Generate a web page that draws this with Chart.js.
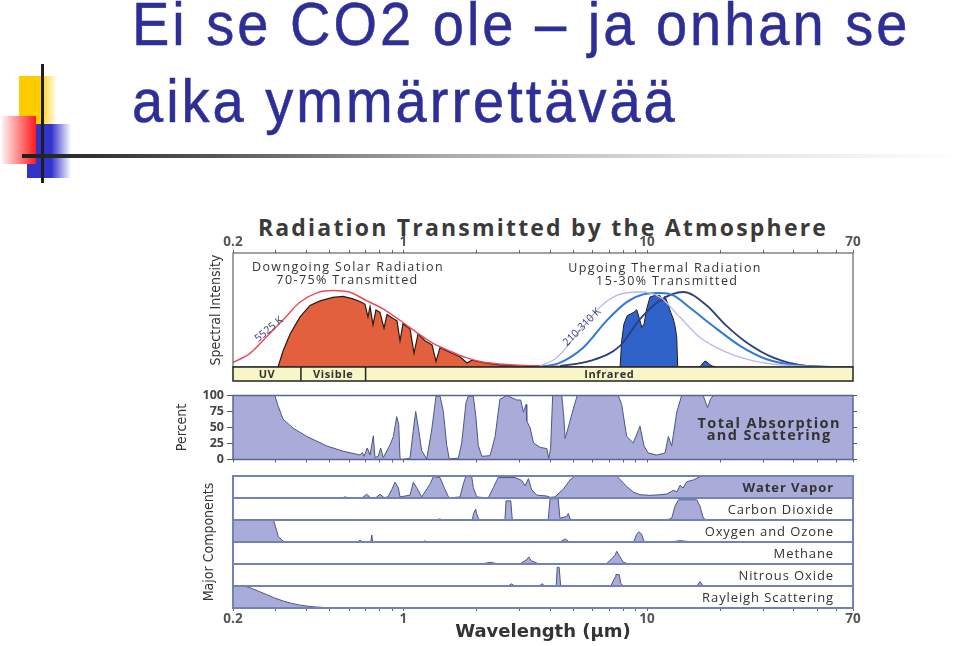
<!DOCTYPE html>
<html>
<head>
<meta charset="utf-8">
<script src="https://cdn.jsdelivr.net/npm/chart.js@4.4.1/dist/chart.umd.min.js"></script>
<style>
  html, body { margin: 0; padding: 0; background: #fff; }
  body { width: 960px; height: 646px; position: relative; overflow: hidden; }
  .abs { position: absolute; }
  .slideTitle {
    position: absolute; left: 132px; margin: 0; white-space: nowrap;
    font-family: 'Liberation Sans', Arial, sans-serif; font-size: 56px; line-height: 56px;
    letter-spacing: 3px; color: #2e2f96; -webkit-text-stroke: 0.5px #2e2f96;
    transform: scaleY(1.1); transform-origin: left bottom;
  }
  #figTitle {
    position: absolute; left: 233px; width: 620px; top: 211px; text-align: center;
    font: 700 23px 'Open Sans', sans-serif; letter-spacing: 2.2px; color: #3a3a3a;
  }
  canvas { position: absolute; }
</style>
</head>
<body>
<!-- slide decoration -->
<div class="abs" style="left:19px;top:76px;width:38px;height:48px;background:linear-gradient(to right,#ffcc00 55%,rgba(255,204,0,0))"></div>
<div class="abs" style="left:27px;top:124px;width:44px;height:54px;background:linear-gradient(to right,#3333cc 55%,rgba(51,51,204,0))"></div>
<div class="abs" style="left:2px;top:116px;width:34px;height:48px;background:linear-gradient(to right,#fff0f0,#ff1a1a)"></div>
<div class="abs" style="left:41px;top:64px;width:3px;height:119px;background:#1e1e1e"></div>
<div class="abs" style="left:22px;top:154px;width:938px;height:4px;background:linear-gradient(to right,#1e1e1e 0%,#555 20%,#aaa 45%,#ddd 70%,rgba(255,255,255,0) 100%)"></div>

<div class="slideTitle" style="top:-1px">Ei se CO2 ole – ja onhan se</div>
<div class="slideTitle" style="top:76px">aika ymmärrettävää</div>

<div id="figTitle">Radiation Transmitted by the Atmosphere</div>

<canvas id="spectral" width="720" height="180" style="left:160px;top:205px"></canvas>
<canvas id="percent" width="720" height="85" style="left:160px;top:385px"></canvas>
<canvas id="components" width="720" height="176" style="left:160px;top:470px"></canvas>

<script>
// Aallonpituusakseli (µm), logaritminen
const wlMin = 0.2;
const wlMax = 70;
const tickMarks = [0.2, 0.3, 0.4, 0.5, 0.6, 0.7, 0.8, 0.9, 1, 2, 3, 4, 5, 6, 7, 8, 9, 10, 20, 30, 40, 50, 60, 70];
const tickLabels = [0.2, 1, 10, 70];

const bandEdges = [0.2, 0.38, 0.7, 70];
const bandNames = ['UV', 'Visible', 'Infrared'];

// Auringon säteily (5525 K) ja läpi päässyt osa
const solarBodyWl = [0.2, 0.235, 0.276, 0.333, 0.377, 0.442, 0.514, 0.604, 0.709, 0.825, 0.968, 1.14, 1.32, 1.55, 1.82, 2.12, 2.49, 3.0, 4.0, 5.5];
const solarBodyVal = [4, 12, 27, 45, 57, 65, 67, 65.5, 58, 51, 41, 30, 21, 14, 8, 4.4, 2.7, 1.5, 0.8, 0];

const solarTransWl = [0.306, 0.321, 0.343, 0.377, 0.414, 0.455, 0.514, 0.566, 0.616, 0.664, 0.696, 0.716, 0.730, 0.751, 0.772, 0.802, 0.833, 0.857, 0.907, 0.942, 0.969, 0.997, 1.065, 1.106, 1.149, 1.227, 1.311, 1.362, 1.414, 1.554, 1.708, 1.825, 1.913, 2.16, 2.49, 3.01, 3.64];
const solarTransVal = [0, 14, 29, 44, 54, 58, 61, 62, 60, 57.5, 55, 44, 53, 37, 50, 48, 34, 46, 42.5, 40.5, 23, 38, 33.5, 12, 29, 23, 19.5, 5, 17, 13, 9, 3.5, 6, 3.5, 1.8, 0.9, 0];

// Maan lämpösäteily (210-310 K)
const warmWl = [3.64, 4.26, 5.31, 6.41, 7.51, 9.35, 11.3, 13.66, 16.49, 20.56, 25.6, 33.0, 45.2, 70];
const warmVal = [0.9, 8.2, 31.9, 52.5, 62.8, 65.8, 61.3, 43.6, 25.9, 14.2, 6.8, 2.4, 0.6, 0];
const midWl = [3.64, 4.40, 5.48, 6.83, 8.25, 9.65, 11.3, 12.82, 15.0, 18.65, 24.07, 30.98, 39.3, 52.9, 70];
const midVal = [0, 3.8, 17.1, 40.7, 56.9, 63.7, 64.9, 62.8, 52, 36, 18.6, 6.8, 2, 0.3, 0];
const coldWl = [4.40, 5.83, 7.75, 9.35, 11.3, 14.09, 17.57, 21.2, 25.6, 33.0, 45.2, 60, 70];
const coldVal = [0.9, 5.3, 18.6, 42, 58.4, 65.8, 54, 36, 21.5, 8.2, 0.9, 0, 0];

const thermalTransWl = [7.75, 7.87, 8.04, 8.30, 8.57, 8.84, 9.07, 9.27, 9.51, 9.72, 9.97, 10.28, 10.78, 11.30, 11.60, 11.85, 12.23, 12.50, 12.82, 13.06, 13.24, 13.36, 16.49, 16.97, 17.29, 17.62, 17.96, 18.47, 19.18];
const thermalTransVal = [0, 23, 37.8, 45.1, 46.6, 48.1, 50.2, 43.6, 34.8, 37.8, 51.1, 61.3, 62.8, 62.8, 57.8, 62, 54, 48.1, 42.2, 34.8, 25.9, 0, 0, 3.5, 5.3, 4.4, 2.7, 0.9, 0];

// Kokonaisabsorptio ja sironta (%)
const totalWl = [0.2, 0.297, 0.306, 0.321, 0.353, 0.402, 0.486, 0.566, 0.664, 0.679, 0.690, 0.711, 0.730, 0.753, 0.765, 0.789, 0.807, 0.827, 0.882, 0.910, 0.939, 0.957, 0.969, 0.985, 1.065, 1.099, 1.124, 1.152, 1.189, 1.247, 1.307, 1.362, 1.414, 1.459, 1.507, 1.544, 1.681, 1.736, 1.808, 1.847, 1.937, 1.987, 2.03, 2.10, 2.27, 2.38, 2.49, 2.66, 2.92, 3.03, 3.11, 3.19, 3.21, 3.31, 3.42, 3.64, 3.88, 3.95, 4.02, 4.10, 4.47, 4.56, 4.61, 4.75, 4.98, 5.17, 7.62, 7.87, 8.25, 8.78, 9.36, 9.72, 10.12, 10.96, 11.85, 12.23, 12.62, 13.24, 13.87, 17.0, 17.7, 18.25, 18.7, 70];
const totalVal = [100, 100, 84, 63, 49, 36, 21, 13, 7, 11, 5, 18, 7, 37, 3, 5, 18, 3, 23, 36, 67, 55, 2, 0, 2, 46, 75, 50, 14, 1, 46, 99, 99, 75, 22, 1, 2, 26, 89, 99, 99, 65, 22, 5, 6, 36, 94, 100, 93, 93, 74, 86, 60, 50, 26, 19, 17, 2, 17, 100, 100, 64, 33, 50, 79, 100, 100, 86, 36, 26, 52, 21, 10, 7, 10, 36, 21, 74, 100, 100, 81, 95, 100, 100];

// Pääkomponentit
const componentNames = ['Water Vapor', 'Carbon Dioxide', 'Oxygen and Ozone', 'Methane', 'Nitrous Oxide', 'Rayleigh Scattering'];

const waterWl = [0.2, 0.559, 0.576, 0.604, 0.676, 0.707, 0.737, 0.772, 0.802, 0.833, 0.865, 0.896, 0.924, 0.954, 0.969, 1.065, 1.099, 1.135, 1.189, 1.287, 1.327, 1.414, 1.483, 1.540, 1.708, 1.762, 1.803, 1.908, 1.937, 2.0, 2.23, 2.34, 2.45, 2.87, 3.06, 3.16, 3.26, 3.36, 3.53, 3.88, 4.0, 4.19, 4.53, 4.83, 5.06, 7.51, 7.75, 8.25, 8.78, 9.35, 10.28, 11.30, 12.04, 12.82, 13.27, 13.66, 14.05, 14.55, 15.48, 16.49, 17.57, 70];
const waterVal = [0, 0, 5, 0, 0, 17, 0, 2, 17, 2, 5, 38, 72, 47, 5, 13, 72, 47, 5, 63, 97, 93, 38, 0, 5, 63, 97, 97, 47, 5, 0, 47, 93, 93, 80, 55, 88, 38, 13, 9, 3, 5, 40, 82, 100, 100, 84, 52, 27, 15, 12, 15, 18, 35, 28, 58, 45, 74, 82, 97, 100, 100];

const co2Wl = [0.2, 1.37, 1.41, 1.45, 1.92, 1.94, 1.98, 2.0, 2.03, 2.07, 2.61, 2.64, 2.76, 2.8, 3.93, 4.0, 4.32, 4.39, 4.68, 4.75, 4.83, 4.97, 8.8, 9.4, 10.4, 12.0, 12.62, 13.03, 13.46, 15.99, 16.49, 17.02, 17.57, 70];
const co2Val = [0, 0, 5, 0, 0, 28, 50, 28, 8, 0, 0, 87, 87, 0, 0, 97, 97, 8, 16, 30, 5, 0, 0, 2, 2, 0, 8, 63, 92, 92, 63, 8, 0, 0];

const oxyWl = [0.2, 0.293, 0.297, 0.307, 0.322, 0.36, 0.65, 0.664, 0.68, 0.735, 0.742, 0.749, 1.2, 1.227, 1.26, 4.4, 4.61, 4.8, 8.8, 9.07, 9.27, 9.5, 9.72, 10.0, 12.5, 13.66, 15.5, 70];
const oxyVal = [100, 100, 80, 24, 3, 0, 0, 8, 0, 0, 32, 0, 0, 5, 0, 0, 14, 0, 0, 35, 47, 35, 3, 0, 0, 6, 0, 0];

const ch4Wl = [0.2, 2.1, 2.27, 2.45, 3.0, 3.21, 3.27, 3.35, 3.6, 6.8, 7.16, 7.39, 7.51, 7.75, 7.99, 8.4, 70];
const ch4Val = [0, 0, 8, 0, 0, 20, 32, 15, 0, 0, 24, 40, 58, 32, 8, 0, 0];

const n2oWl = [0.2, 2.7, 2.78, 2.86, 3.6, 3.72, 3.8, 4.24, 4.28, 4.36, 4.42, 7.1, 7.39, 7.45, 7.69, 7.8, 8.0, 16.0, 16.49, 17.0, 70];
const n2oVal = [0, 0, 10, 0, 0, 10, 0, 0, 85, 85, 0, 0, 40, 52, 52, 12, 0, 0, 20, 0, 0];

const rayleighWl = [0.2, 0.217, 0.254, 0.297, 0.348, 0.407, 0.477, 0.559, 70];
const rayleighVal = [100, 100, 77, 45, 21, 8, 2, 0, 0];

// --- apufunktiot ---
const pts = (xs, ys) => xs.map((x, i) => ({ x: x, y: ys[i] }));
const sideFont = "'Liberation Sans Narrow', 'DejaVu Sans Condensed', 'Open Sans', sans-serif";
const fillColor = '#a9abd8';
const fillLine = '#4c5689';
const bandHeight = 14;

function wlAxis(position, showLabels) {
    return {
        type: 'logarithmic',
        position: position,
        min: wlMin,
        max: wlMax,
        afterBuildTicks: s => { s.ticks = tickMarks.map(v => ({ value: v })); },
        ticks: {
            display: showLabels,
            autoSkip: false,
            maxRotation: 0,
            padding: 1,
            color: '#555',
            font: { family: 'Open Sans', weight: 'bold', size: 13.5, lineHeight: 1 },
            callback: v => tickLabels.some(t => Math.abs(t - v) < 1e-9) ? String(v) : ''
        },
        grid: { drawOnChartArea: false, tickLength: 3, color: '#666' },
        border: { display: false }
    };
}

// kehykset jokaisen y-akselin paneelin ympärille
const framePlugin = {
    id: 'frames',
    afterDatasetsDraw(chart, args, opts) {
        const { ctx, chartArea: a } = chart;
        ctx.save();
        ctx.strokeStyle = opts.color || '#444';
        ctx.lineWidth = opts.width || 1;
        Object.values(chart.scales).forEach(s => {
            if (s.axis !== 'y' || s.id === 'yr') return;
            ctx.strokeRect(a.left, s.top, a.right - a.left, s.bottom - s.top);
        });
        ctx.restore();
    }
};

// UV / Visible / Infrared -kaista kuva-alueen alle
const bandPlugin = {
    id: 'bands',
    afterDatasetsDraw(chart) {
        const xs = chart.scales.x;
        const top = chart.chartArea.bottom;
        const ctx = chart.ctx;
        ctx.save();
        ctx.fillStyle = '#f8f6c6';
        ctx.fillRect(xs.left, top, xs.right - xs.left, bandHeight);
        ctx.strokeStyle = '#222';
        ctx.lineWidth = 1.5;
        ctx.strokeRect(xs.left, top, xs.right - xs.left, bandHeight);
        ctx.font = "bold 11px 'Open Sans', sans-serif";
        ctx.fillStyle = '#333';
        ctx.textAlign = 'center';
        ctx.textBaseline = 'middle';
        if ('letterSpacing' in ctx) ctx.letterSpacing = '0.6px';
        bandNames.forEach((name, i) => {
            const x0 = xs.getPixelForValue(bandEdges[i]);
            const x1 = xs.getPixelForValue(bandEdges[i + 1]);
            if (i > 0) {
                ctx.beginPath();
                ctx.moveTo(x0, top);
                ctx.lineTo(x0, top + bandHeight);
                ctx.stroke();
            }
            ctx.fillText(name, (x0 + x1) / 2, top + bandHeight / 2 + 1);
        });
        ctx.restore();
    }
};

// tekstit kuvaajan sisällä, paikka datakoordinaateissa
function notesPlugin(items) {
    return {
        id: 'notes',
        afterDatasetsDraw(chart) {
            const ctx = chart.ctx;
            items.forEach(n => {
                const px = chart.scales.x.getPixelForValue(n.x);
                const py = chart.scales[n.axis || 'y'].getPixelForValue(n.y);
                ctx.save();
                ctx.translate(px, py);
                ctx.rotate((n.rotate || 0) * Math.PI / 180);
                ctx.font = n.font;
                ctx.fillStyle = n.color || '#333';
                ctx.textAlign = n.align || 'center';
                ctx.textBaseline = 'middle';
                if ('letterSpacing' in ctx) ctx.letterSpacing = n.spacing || '0px';
                ctx.fillText(n.text, 0, 0);
                ctx.restore();
            });
        }
    };
}

const noteFont = "12.5px 'Open Sans', sans-serif";
const spectralNotes = [
    { text: 'Downgoing Solar Radiation', x: 0.593, y: 87.5, font: noteFont, spacing: '1.4px' },
    { text: '70-75% Transmitted', x: 0.59, y: 76, font: noteFont, spacing: '1.4px' },
    { text: 'Upgoing Thermal Radiation', x: 11.85, y: 86.5, font: noteFont, spacing: '1.4px' },
    { text: '15-30% Transmitted', x: 12.1, y: 75, font: noteFont, spacing: '1.4px' },
    { text: '5525 K', x: 0.281, y: 33, font: "10.5px 'Open Sans', sans-serif", color: '#2d3a70', rotate: -40 },
    { text: '210-310 K', x: 5.41, y: 35, font: "10.5px 'Open Sans', sans-serif", color: '#2d3a70', rotate: -45 }
];
const percentNotes = [
    { text: 'Total Absorption', x: 31.7, y: 55, font: "bold 14.5px 'Open Sans', sans-serif", spacing: '1.4px' },
    { text: 'and Scattering', x: 31.7, y: 37, font: "bold 14.5px 'Open Sans', sans-serif", spacing: '1.4px' }
];

// --- 1: spektri ---
new Chart(document.getElementById('spectral'), {
    type: 'line',
    data: {
        datasets: [
            { data: pts(warmWl, warmVal), borderColor: '#bdb6ea', borderWidth: 1.3, cubicInterpolationMode: 'monotone' },
            { data: pts(midWl, midVal), borderColor: '#2f7ad6', borderWidth: 2, cubicInterpolationMode: 'monotone' },
            { data: pts(coldWl, coldVal), borderColor: '#2c3f7c', borderWidth: 1.8, cubicInterpolationMode: 'monotone' },
            { data: pts(thermalTransWl, thermalTransVal), borderColor: '#1c1e2e', borderWidth: 1, backgroundColor: '#2f63c9', fill: 'origin' },
            { data: pts(solarBodyWl, solarBodyVal), borderColor: '#ea4c5e', borderWidth: 1.5, cubicInterpolationMode: 'monotone' },
            { data: pts(solarTransWl, solarTransVal), borderColor: '#2a1a14', borderWidth: 1.2, backgroundColor: '#e2603d', fill: 'origin' }
        ]
    },
    options: {
        responsive: false,
        animation: false,
        events: [],
        layout: { padding: { left: 0, right: 27, top: 28, bottom: 4 + bandHeight } },
        elements: { point: { radius: 0 }, line: { tension: 0 } },
        scales: {
            x: Object.assign(wlAxis('top', true), { afterFit: s => { s.height = 20; } }),
            y: {
                position: 'left', min: 0, max: 100,
                ticks: { display: false }, grid: { display: false }, border: { display: false },
                title: { display: true, text: 'Spectral Intensity', color: '#333', padding: { top: 47.6, bottom: 0 }, font: { family: sideFont, size: 14 } },
                afterFit: s => { s.width = 73; }
            }
        },
        plugins: {
            legend: { display: false },
            tooltip: { enabled: false },
            frames: { color: '#444', width: 1 }
        }
    },
    plugins: [framePlugin, bandPlugin, notesPlugin(spectralNotes)]
});

// --- 2: kokonaisabsorptio ---
new Chart(document.getElementById('percent'), {
    type: 'line',
    data: {
        datasets: [
            { data: pts(totalWl, totalVal), borderColor: fillLine, borderWidth: 1, backgroundColor: fillColor, fill: 'origin' }
        ]
    },
    options: {
        responsive: false,
        animation: false,
        events: [],
        layout: { padding: { left: 0, right: 23, top: 7, bottom: 0 } },
        elements: { point: { radius: 0 }, line: { tension: 0 } },
        scales: {
            x: Object.assign(wlAxis('bottom', false), { afterFit: s => { s.height = 7; } }),
            y: {
                position: 'left', min: 0, max: 100,
                ticks: { stepSize: 25, autoSkip: false, padding: 3, color: '#444', font: { family: 'Open Sans', weight: 'bold', size: 12.5 } },
                grid: { drawOnChartArea: false, tickLength: 6, color: '#555' },
                border: { display: false },
                title: { display: true, text: 'Percent', color: '#333', padding: { top: 13.6, bottom: 0 }, font: { family: sideFont, size: 14 } },
                afterFit: s => { s.width = 73; }
            },
            yr: {
                position: 'right', min: 0, max: 100,
                ticks: { display: false, stepSize: 25, autoSkip: false },
                grid: { drawOnChartArea: false, tickLength: 4, color: '#555' },
                border: { display: false },
                afterFit: s => { s.width = 4; }
            }
        },
        plugins: {
            legend: { display: false },
            tooltip: { enabled: false },
            frames: { color: '#5a6494', width: 1.5 }
        }
    },
    plugins: [framePlugin, notesPlugin(percentNotes)]
});

// --- 3: pääkomponentit ---
const componentSeries = [
    { id: 'wv', wl: waterWl, val: waterVal },
    { id: 'co2', wl: co2Wl, val: co2Val },
    { id: 'oxy', wl: oxyWl, val: oxyVal },
    { id: 'ch4', wl: ch4Wl, val: ch4Val },
    { id: 'n2o', wl: n2oWl, val: n2oVal },
    { id: 'ray', wl: rayleighWl, val: rayleighVal }
];

const componentScales = { x: Object.assign(wlAxis('bottom', true), {
    afterFit: s => { s.height = 38; },
    title: { display: true, text: 'Wavelength (µm)', color: '#333', padding: { top: 0, bottom: 3 }, font: { family: 'DejaVu Sans', weight: 'bold', size: 18 } }
}) };
// viimeisenä määritelty akseli päätyy pinon ylimmäksi
componentSeries.slice().reverse().forEach(c => {
    componentScales[c.id] = {
        position: 'left', stack: 'comp', stackWeight: 1, min: 0, max: 100,
        ticks: { display: false }, grid: { display: false }, border: { display: false },
        afterFit: s => { s.width = 73; }
    };
});

const componentLabels = {
    id: 'componentLabels',
    afterDatasetsDraw(chart) {
        const { ctx, chartArea: a } = chart;
        ctx.save();
        ctx.fillStyle = '#333';
        ctx.textAlign = 'right';
        ctx.textBaseline = 'middle';
        if ('letterSpacing' in ctx) ctx.letterSpacing = '0.9px';
        componentSeries.forEach((c, i) => {
            const s = chart.scales[c.id];
            ctx.font = (i === 0 ? 'bold ' : '') + "13px 'Open Sans', sans-serif";
            ctx.fillText(componentNames[i], a.right - 19, (s.top + s.bottom) / 2 + 1);
        });
        // pystyotsikko koko pinon keskelle
        ctx.translate(49, (a.top + a.bottom) / 2);
        ctx.rotate(-Math.PI / 2);
        ctx.textAlign = 'center';
        if ('letterSpacing' in ctx) ctx.letterSpacing = '0px';
        ctx.font = '14px ' + sideFont;
        ctx.fillText('Major Components', 0, 0);
        ctx.restore();
    }
};

new Chart(document.getElementById('components'), {
    type: 'line',
    data: {
        datasets: componentSeries.map(c => ({
            data: pts(c.wl, c.val),
            yAxisID: c.id,
            borderColor: fillLine,
            borderWidth: 1,
            backgroundColor: fillColor,
            fill: 'origin',
            cubicInterpolationMode: c.id === 'ray' ? 'monotone' : 'default'
        }))
    },
    options: {
        responsive: false,
        animation: false,
        events: [],
        layout: { padding: { left: 0, right: 27, top: 6, bottom: 0 } },
        elements: { point: { radius: 0 }, line: { tension: 0 } },
        scales: componentScales,
        plugins: {
            legend: { display: false },
            tooltip: { enabled: false },
            frames: { color: '#7282b6', width: 2 }
        }
    },
    plugins: [framePlugin, componentLabels]
});
</script>
</body>
</html>
